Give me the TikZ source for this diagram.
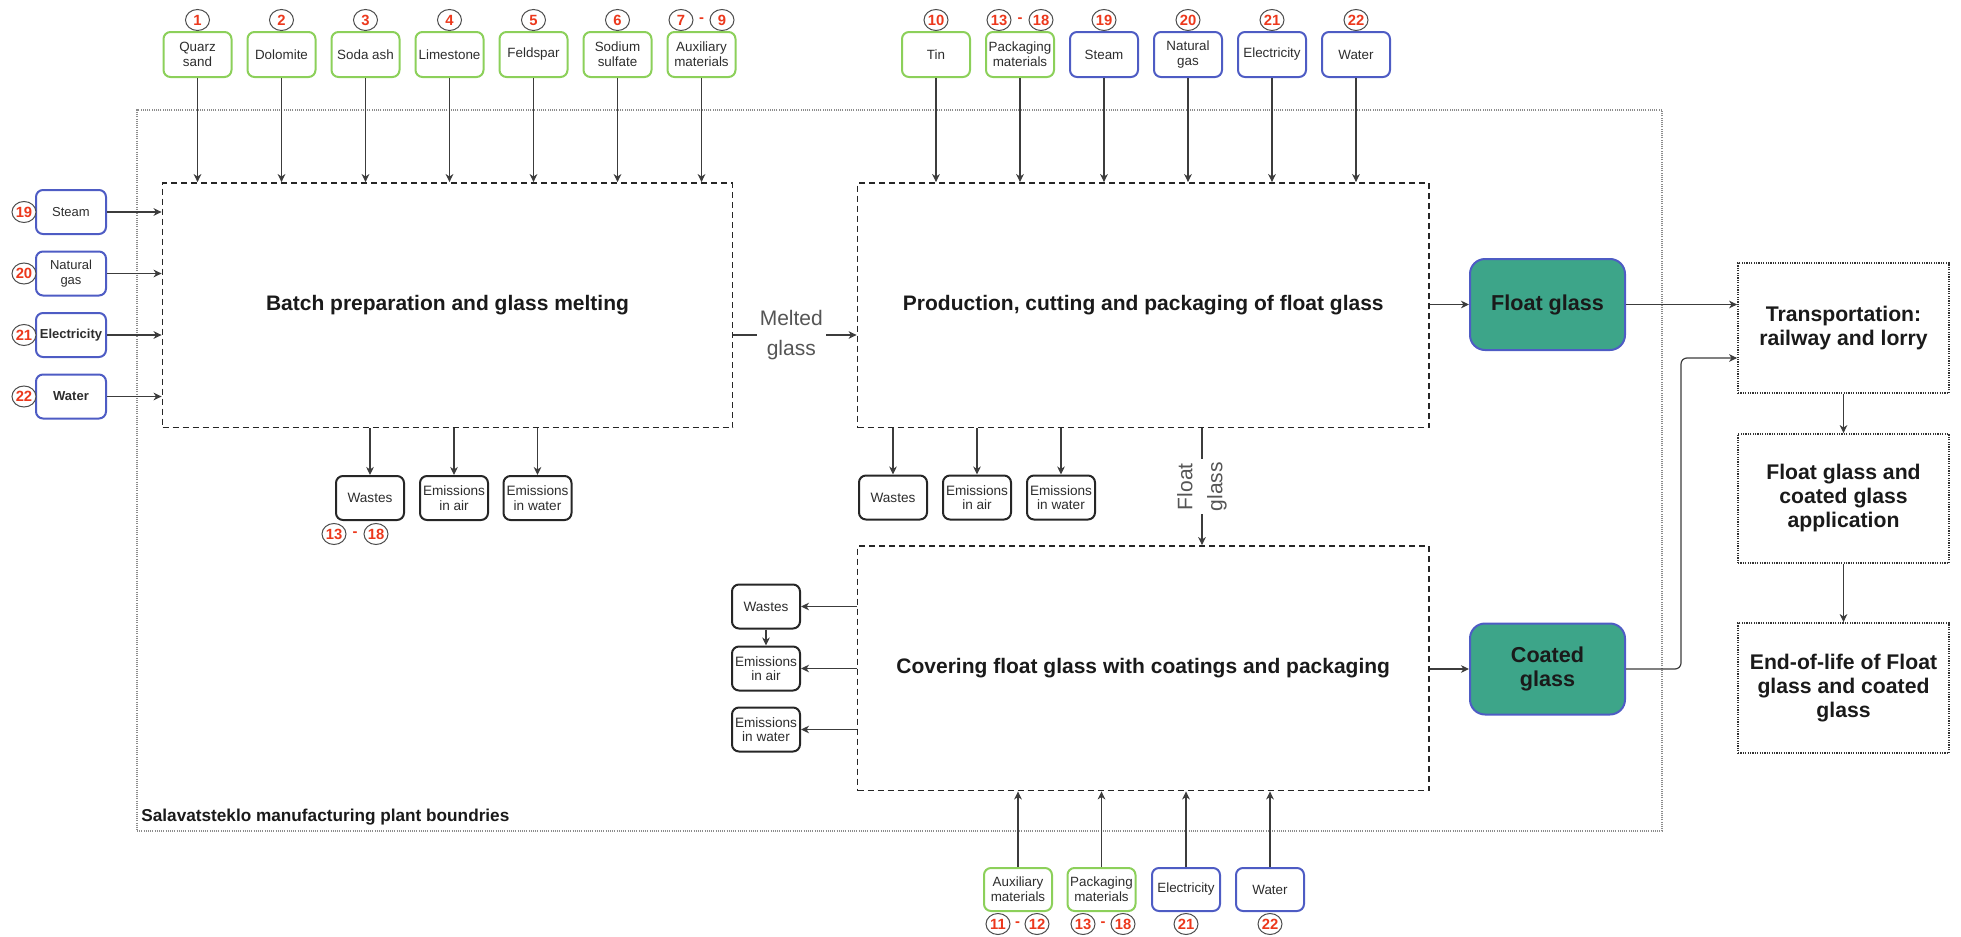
\documentclass[tikz,border=0pt]{standalone}
\usepackage{fontspec}
\setmainfont{Liberation Sans}
\usetikzlibrary{shapes.geometric,arrows.meta}
\definecolor{gbord}{RGB}{140,208,90}
\definecolor{bbord}{RGB}{78,92,196}
\definecolor{tealf}{RGB}{61,165,137}
\definecolor{numred}{RGB}{236,56,28}
\definecolor{txt}{RGB}{45,45,45}
\definecolor{arrc}{RGB}{60,60,60}
\definecolor{lblc}{RGB}{85,85,85}
\definecolor{bigtxt}{RGB}{26,26,26}
\begin{document}
\begin{tikzpicture}[x=0.5pt,y=-0.5pt,
  inbox/.style={draw=gbord, line width=1pt, rounded corners=3.5pt, minimum width=34pt, minimum height=22.5pt, align=center, font=\fontsize{6.7}{7.6}\selectfont, text=txt, inner sep=0pt},
  ingreen/.style={inbox, draw=gbord},
  inblue/.style={inbox, draw=bbord},
  leftbox/.style={inbox, draw=bbord, minimum width=35pt, minimum height=22pt, font=\fontsize{6.5}{7.4}\selectfont},
  outbox/.style={draw=black!85, line width=1pt, rounded corners=3.5pt, minimum width=34pt, minimum height=22pt, align=center, font=\fontsize{6.8}{7.3}\selectfont, text=txt, inner sep=0pt},
  proc/.style={draw=black!85, line width=0.9pt, dash pattern=on 3pt off 2pt, align=center, font=\bfseries\fontsize{10.5}{12.5}\selectfont, text=bigtxt},
  prodbox/.style={draw=bbord, fill=tealf, line width=1pt, rounded corners=7.5pt, minimum width=77.5pt, minimum height=45.5pt, align=center, font=\bfseries\fontsize{10.8}{12}\selectfont, text=bigtxt},
  life/.style={draw=black!80, line width=0.9pt, dash pattern=on 0.6pt off 0.6pt, minimum width=105.5pt, align=center, font=\bfseries\fontsize{10.6}{12}\selectfont, text=bigtxt},
  plantbox/.style={draw=black!45, line width=0.6pt, dash pattern=on 0.5pt off 0.6pt},
  num/.style={ellipse, draw=black!70, line width=0.5pt, minimum width=12pt, minimum height=10.5pt, inner sep=0pt, fill=white, text=numred, font=\bfseries\fontsize{7.4}{7.4}\selectfont},
  numdash/.style={inner sep=0pt, text=numred, font=\bfseries\fontsize{7.4}{7.4}\selectfont},
  arr/.style={draw=arrc, line width=0.6pt, -{Stealth[length=4pt,width=3.8pt,inset=1.2pt]}},
  flowlbl/.style={fill=white, inner sep=1.5pt, align=center, text=lblc, font=\fontsize{10.5}{15}\selectfont}
]
\useasboundingbox (0,0) rectangle (1961,937);

% plant boundary
\node[plantbox, minimum width=762.5pt, minimum height=360.5pt] (plant) at (899.5,470.5) {};
\node[anchor=west, inner sep=0pt, text=bigtxt, font=\bfseries\fontsize{8.6}{10}\selectfont] (plantlbl) at (141,817) {Salavatsteklo manufacturing plant boundries};

% process boxes
\node[proc, minimum width=285pt, minimum height=122.25pt] (batch) at (447.5,305.25) {Batch preparation and glass melting};
\node[proc, minimum width=285.75pt, minimum height=122.25pt] (prod) at (1143.25,305.25) {Production, cutting and packaging of float glass};
\node[proc, minimum width=285.75pt, minimum height=122.25pt] (cov) at (1143.25,668.25) {Covering float glass with coatings and packaging};

% top inputs batch
\node[ingreen] (q1) at (197.5,54.5) {Quarz\\sand};
\node[ingreen] (q2) at (281.5,54.5) {Dolomite};
\node[ingreen] (q3) at (365.5,54.5) {Soda ash};
\node[ingreen] (q4) at (449.5,54.5) {Limestone};
\node[ingreen] (q5) at (533.5,54.5) {Feldspar};
\node[ingreen] (q6) at (617.5,54.5) {Sodium\\sulfate};
\node[ingreen] (q7) at (701.5,54.5) {Auxiliary\\materials};

% top inputs production
\node[ingreen] (r1) at (936,54.5) {Tin};
\node[ingreen] (r2) at (1020,54.5) {Packaging\\materials};
\node[inblue] (r3) at (1104,54.5) {Steam};
\node[inblue] (r4) at (1188,54.5) {Natural\\gas};
\node[inblue] (r5) at (1272,54.5) {Electricity};
\node[inblue] (r6) at (1356,54.5) {Water};

% top circles
\node[num] (n1) at (197.5,20) {1};
\node[num] (n2) at (281.5,20) {2};
\node[num] (n3) at (365.5,20) {3};
\node[num] (n4) at (449.5,20) {4};
\node[num] (n5) at (533.5,20) {5};
\node[num] (n6) at (617.5,20) {6};
\node[num] (n7) at (681,20) {7};
\node[numdash] (d79) at (701.5,20) {-};
\node[num] (n9) at (722,20) {9};
\node[num] (n10) at (936,20) {10};
\node[num] (n13a) at (999,20) {13};
\node[numdash] (d1318a) at (1020,20) {-};
\node[num] (n18a) at (1041,20) {18};
\node[num] (n19a) at (1104,20) {19};
\node[num] (n20a) at (1188,20) {20};
\node[num] (n21a) at (1272,20) {21};
\node[num] (n22a) at (1356,20) {22};

% left inputs
\node[leftbox] (l1) at (71,212) {Steam};
\node[leftbox] (l2) at (71,273.5) {Natural\\gas};
\node[leftbox, font=\bfseries\fontsize{6.5}{7.4}\selectfont] (l3) at (71,335) {Electricity};
\node[leftbox, font=\bfseries\fontsize{6.5}{7.4}\selectfont] (l4) at (71,396.5) {Water};
\node[num] (n19b) at (24,212) {19};
\node[num] (n20b) at (24,273.5) {20};
\node[num] (n21b) at (24,335) {21};
\node[num] (n22b) at (24,396.5) {22};

% batch outputs
\node[outbox] (bw) at (370,498) {Wastes};
\node[outbox] (ba) at (454,498) {Emissions\\in air};
\node[outbox] (bwa) at (537.5,498) {Emissions\\in water};
\node[num] (n13b) at (334,534) {13};
\node[numdash] (d1318b) at (355,534) {-};
\node[num] (n18b) at (376,534) {18};

% production outputs
\node[outbox] (pw) at (893,497.5) {Wastes};
\node[outbox] (pa) at (977,497.5) {Emissions\\in air};
\node[outbox] (pwa) at (1061,497.5) {Emissions\\in water};

% covering outputs
\node[outbox] (cw) at (766,606.5) {Wastes};
\node[outbox] (ca) at (766,668.5) {Emissions\\in air};
\node[outbox] (cwa) at (766,729.5) {Emissions\\in water};

% bottom inputs
\node[ingreen, minimum height=21.5pt] (b1) at (1018,889.5) {Auxiliary\\materials};
\node[ingreen, minimum height=21.5pt] (b2) at (1101.5,889.5) {Packaging\\materials};
\node[inblue, minimum height=21.5pt] (b3) at (1186,889.5) {Electricity};
\node[inblue, minimum height=21.5pt] (b4) at (1270,889.5) {Water};
\node[num] (n11) at (998,924) {11};
\node[numdash] (d1112) at (1017.5,924) {-};
\node[num] (n12) at (1037,924) {12};
\node[num] (n13c) at (1083,924) {13};
\node[numdash] (d1318c) at (1103,924) {-};
\node[num] (n18c) at (1123,924) {18};
\node[num] (n21c) at (1186,924) {21};
\node[num] (n22c) at (1270,924) {22};

% products
\node[prodbox] (fg) at (1547.5,304.5) {Float glass};
\node[prodbox] (cg) at (1547.5,669) {Coated\\glass};

% life cycle boxes
\node[life, minimum height=65pt] (trans) at (1843.5,328) {Transportation:\\railway and lorry};
\node[life, minimum height=64.5pt] (appl) at (1843.5,498.5) {Float glass and\\coated glass\\application};
\node[life, minimum height=65pt] (eol) at (1843.5,688) {End-of-life of Float\\glass and coated\\glass};

% helper coordinates
\coordinate (fgx) at (1202,0);
\coordinate (ex) at (1681,0);
\path (batch.east) ++(0,29.75) coordinate (mg);
\path (trans.west) ++(0,30) coordinate (t2);

% connectors: top inputs
\foreach \n in {q1,q2,q3,q4,q5,q6,q7} \draw[arr] (\n.south) -- (\n.south |- batch.north);
\foreach \n in {r1,r2,r3,r4,r5,r6} \draw[arr] (\n.south) -- (\n.south |- prod.north);
% left inputs
\foreach \n in {l1,l2,l3,l4} \draw[arr] (\n.east) -- (\n.east -| batch.west);
% outputs
\foreach \n in {bw,ba,bwa} \draw[arr] (\n.north |- batch.south) -- (\n.north);
\foreach \n in {pw,pa,pwa} \draw[arr] (\n.north |- prod.south) -- (\n.north);
\foreach \n in {cw,ca,cwa} \draw[arr] (\n.east -| cov.west) -- (\n.east);
\draw[arr] (cw.south) -- (ca.north);
% bottom inputs
\foreach \n in {b1,b2,b3,b4} \draw[arr] (\n.north) -- (\n.north |- cov.south);
% main flow
\draw[arr] (mg) -- (mg -| prod.west) node[flowlbl, pos=0.47] (mglbl) {Melted\\glass};
\draw[arr] (prod.south -| fgx) -- (cov.north -| fgx) node[flowlbl, midway, rotate=90] (fglbl) {Float\\glass};
\draw[arr] (fg.west -| prod.east) -- (fg.west);
\draw[arr] (cg.west -| cov.east) -- (cg.west);
\draw[arr] (fg.east) -- (fg.east -| trans.west);
\draw[arr, rounded corners=3pt] (cg.east) -- (cg.east -| ex) |- (t2);
\draw[arr] (trans.south) -- (appl.north);
\draw[arr] (appl.south) -- (eol.north);
\end{tikzpicture}
\end{document}
